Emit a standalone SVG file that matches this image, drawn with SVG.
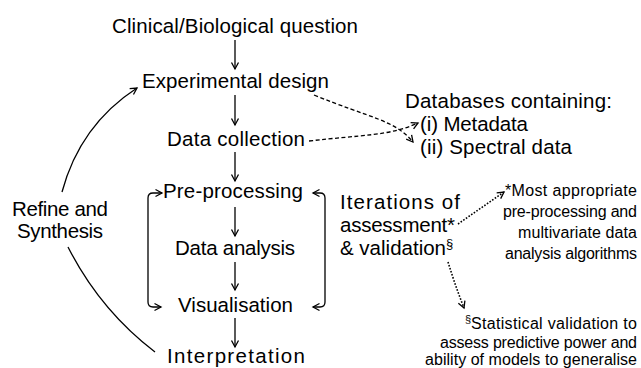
<svg xmlns="http://www.w3.org/2000/svg" width="641" height="368" viewBox="0 0 641 368">
<style>
text{font-family:"Comic Sans MS","Liberation Sans",sans-serif;fill:#000}
.m{font-size:20.5px;text-anchor:middle}
.l{font-size:20.5px}
.f{font-size:16px;text-anchor:end}
.c{fill:none;stroke:#000;stroke-width:1.3}
.d{stroke-dasharray:4 2.5}
.o{stroke-dasharray:1.6 1.6;stroke-width:1.6}
</style>
<defs>
<marker id="ah" markerWidth="10" markerHeight="10" refX="8" refY="5" orient="auto-start-reverse" markerUnits="userSpaceOnUse">
<path d="M1.5,1.5 L8,5 L1.5,8.5" fill="none" stroke="#000" stroke-width="1.3"/>
</marker>
</defs>
<rect width="641" height="368" fill="#fff"/>
<g id="connectors">
<path class="c" d="M235,40 V69" marker-end="url(#ah)"/>
<path class="c" d="M235,95 V125" marker-end="url(#ah)"/>
<path class="c" d="M235,152 V181" marker-end="url(#ah)"/>
<path class="c" d="M235,207 V236" marker-end="url(#ah)"/>
<path class="c" d="M235,262 V290" marker-end="url(#ah)"/>
<path class="c" d="M235,318 V347" marker-end="url(#ah)"/>
<path class="c" d="M162,193 H153 Q148,193 148,198 V302 Q148,307 153,307 H161" marker-start="url(#ah)" marker-end="url(#ah)"/>
<path class="c" d="M313,193 H320 Q325,193 325,198 V302 Q325,307 320,307 H313" marker-start="url(#ah)" marker-end="url(#ah)"/>
<path class="c d" d="M314,95 C370,118 395,120 413,142" marker-end="url(#ah)"/>
<path class="c d" d="M309,141 C360,135 390,136 418,123" marker-end="url(#ah)"/>
<path class="c" d="M62,192 Q80,125 137,88" marker-end="url(#ah)"/>
<path class="c" d="M68,247 Q100,310 155,352"/>
<path class="c o" d="M458,224 L504,192" marker-end="url(#ah)"/>
<path class="c o" d="M448,262 Q455,285 464,308" marker-end="url(#ah)"/>
</g>
<g id="n-question"><text class="m" x="235" y="33" textLength="246">Clinical/Biological question</text></g>
<g id="n-design"><text class="m" x="235.5" y="88" textLength="187">Experimental design</text></g>
<g id="n-collection"><text class="m" x="236" y="146" textLength="138">Data collection</text></g>
<g id="n-databases">
<text class="l" x="405" y="108" textLength="207">Databases containing:</text>
<text class="l" x="420" y="131" textLength="108">(i) Metadata</text>
<text class="l" x="420" y="154" textLength="152">(ii) Spectral data</text>
</g>
<g id="n-preprocessing"><text class="m" x="233" y="198" textLength="140">Pre-processing</text></g>
<g id="n-analysis"><text class="m" x="235" y="255" textLength="120">Data analysis</text></g>
<g id="n-visualisation"><text class="m" x="235.5" y="312" textLength="115">Visualisation</text></g>
<g id="n-interpretation"><text class="m" x="236" y="363" textLength="138">Interpretation</text></g>
<g id="n-refine">
<text class="m" x="60" y="216" textLength="96">Refine and</text>
<text class="m" x="60" y="238" textLength="86">Synthesis</text>
</g>
<g id="n-iterations">
<text class="l" x="340" y="209" textLength="120">Iterations of</text>
<text class="l" x="340" y="232" textLength="115">assessment*</text>
<text class="l" x="340" y="255">&amp; validation<tspan font-size="13" dy="-7">§</tspan></text>
</g>
<g id="n-note1">
<text class="f" x="637" y="196" textLength="132">*Most appropriate</text>
<text class="f" x="637" y="217" textLength="134">pre-processing and</text>
<text class="f" x="637" y="238" textLength="119">multivariate data</text>
<text class="f" x="637" y="259" textLength="132">analysis algorithms</text>
</g>
<g id="n-note2">
<text class="f" x="637" y="329"><tspan font-size="11" dy="-6">§</tspan><tspan dy="6" textLength="166">Statistical validation to</tspan></text>
<text class="f" x="637" y="348" textLength="197">assess predictive power and</text>
<text class="f" x="637" y="365" textLength="212">ability of models to generalise</text>
</g>
</svg>
